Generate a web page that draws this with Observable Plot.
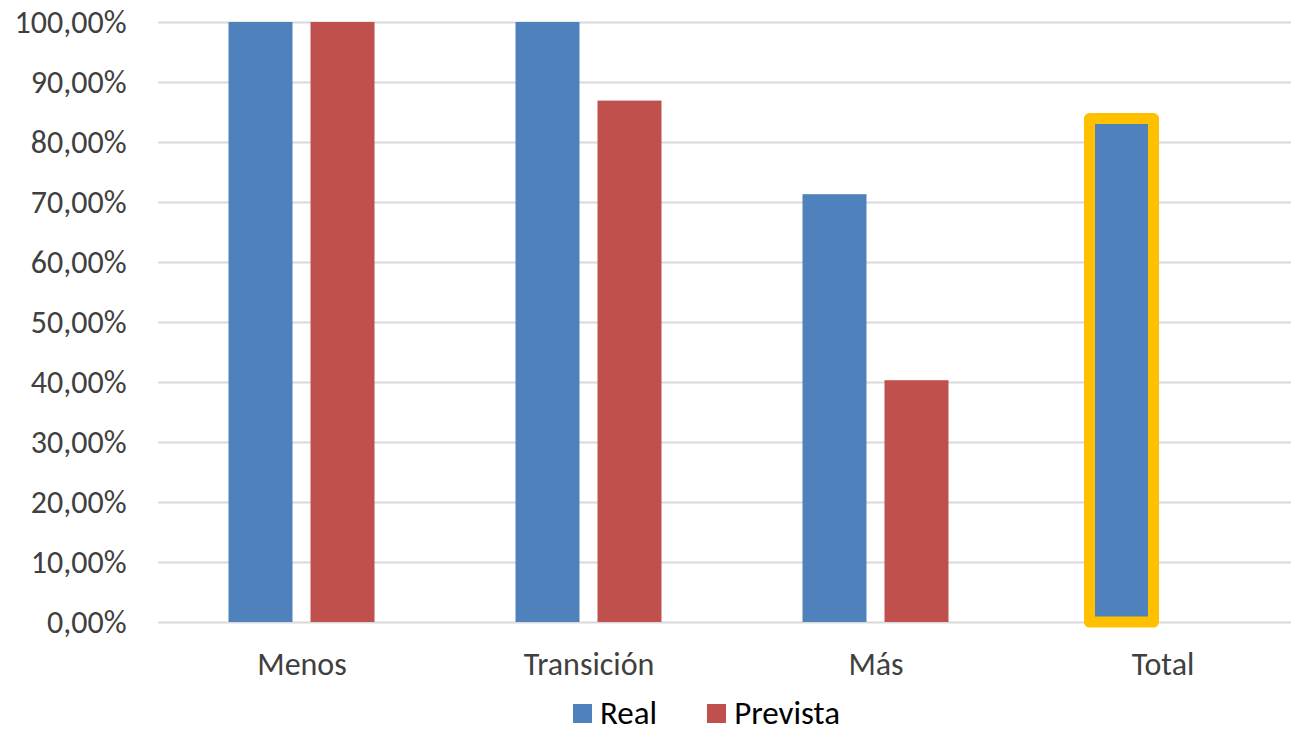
<!DOCTYPE html>
<html>
<head>
<meta charset="utf-8">
<script src="https://cdn.jsdelivr.net/npm/d3@7"></script>
<script src="https://cdn.jsdelivr.net/npm/@observablehq/plot@0.6"></script>
<style>
  html, body { margin: 0; padding: 0; background: #fff; overflow: hidden; }
  #chart { position: relative; width: 1291px; height: 731px; }
  #legend { position: absolute; left: 573px; top: 698px; display: flex; align-items: center; line-height: 30px;
            font-family: Carlito, Calibri, Lato, sans-serif; font-size: 33px; color: #000; }
  .sw { width: 19px; height: 19px; display: inline-block; margin-right: 8px; }
  .item { display: flex; align-items: center; margin-right: 50px; }
</style>
</head>
<body>
<div id="chart"></div>
<script>
const categories = ["Menos", "Transición", "Más", "Total"];
const series = ["Real", "Prevista"];
const realValues = [100, 100, 71.3, 83.9];
const previstaValues = [100, 86.9, 40.3, null];
const yTicks = [0, 10, 20, 30, 40, 50, 60, 70, 80, 90, 100];
const colors = ["#4F81BD", "#C0504D"];
const highlightCategory = "Total";

const data = [];
categories.forEach((c, i) => {
  if (realValues[i] != null) data.push({cat: c, series: "Real", value: realValues[i]});
  if (previstaValues[i] != null) data.push({cat: c, series: "Prevista", value: previstaValues[i]});
});
const highlighted = data.filter(d => d.cat === highlightCategory && d.series === "Real");

const fmt = d => d.toFixed(2).replace(".", ",") + "%";
const font = 'Carlito, Calibri, Lato, sans-serif';

const chart = Plot.plot({
  width: 1291,
  height: 692,
  marginTop: 22,
  marginBottom: 70,
  marginLeft: 157.5,
  marginRight: 0,
  style: {fontFamily: font, fontSize: "32px", color: "#404040", background: "#fff", overflow: "visible"},
  fx: {domain: categories, range: [157.5, 1305.5], padding: 0, label: null},
  x: {domain: series, paddingInner: 0.22, paddingOuter: 0.86, axis: null},
  y: {domain: [0, 100], label: null},
  color: {domain: series, range: colors},
  marks: [
    Plot.gridY(yTicks, {stroke: "#D9D9D9", strokeOpacity: 1, strokeWidth: 2}),
    Plot.axisY(yTicks, {tickSize: 0, tickPadding: 32, tickFormat: fmt, label: null, fill: "#404040", fontSize: 32}),
    Plot.axisFx({anchor: "bottom", tickSize: 0, tickPadding: 30, label: null, fill: "#404040", fontSize: 32}),
    Plot.barY(data, {fx: "cat", x: "series", y: "value", fill: "series"}),
    Plot.barY(highlighted, {fx: "cat", x: "series", y: "value", fill: "series", stroke: "#FFC000", strokeWidth: 11, strokeLinejoin: "round"})
  ]
});
document.getElementById("chart").appendChild(chart);

const legend = document.createElement("div");
legend.id = "legend";
series.forEach((s, i) => {
  const item = document.createElement("div");
  item.className = "item";
  const sw = document.createElement("span");
  sw.className = "sw";
  sw.style.background = colors[i];
  item.appendChild(sw);
  item.appendChild(document.createTextNode(s));
  legend.appendChild(item);
});
document.getElementById("chart").appendChild(legend);
</script>
</body>
</html>
